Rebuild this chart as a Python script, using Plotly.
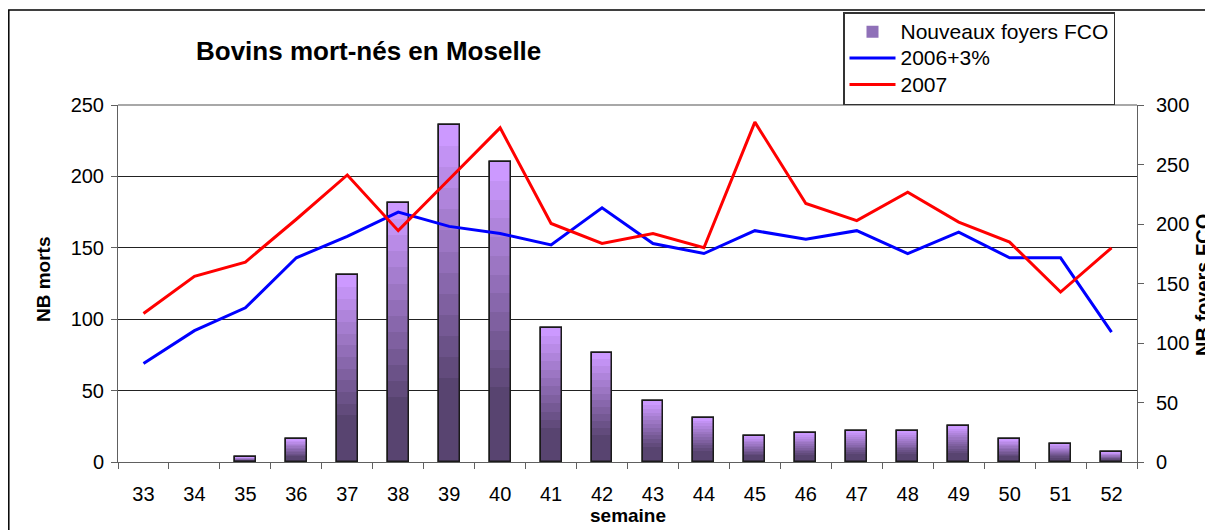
import plotly.graph_objects as go

semaines = [str(s) for s in range(33, 53)]
foyers_fco = [0, 0, 4, 19, 157, 218, 283, 252, 113, 92, 51, 37, 22, 24, 26, 26, 30, 19, 15, 8]
morts_2006 = [69, 92, 108, 143, 158, 175, 165, 160, 152, 178, 153, 146, 162, 156, 162, 146, 161, 143, 143, 91]
morts_2007 = [104, 130, 140, 170, 201, 162, 198, 234, 167, 153, 160, 150, 238, 181, 169, 189, 168, 154, 119, 150]
series_names = ["Nouveaux foyers FCO", "2006+3%", "2007"]

FONT = "Liberation Sans, Arial, sans-serif"
BAR_W = 0.41

def mix(c1, c2, t):
    return "#%02x%02x%02x" % tuple(round(a + (b - a) * t) for a, b in zip(c1, c2))

def legend_label(s):
    return '<span style="font-size:21px">%s</span>' % s

LIGHT = (204, 153, 255)
DARK = (88, 68, 112)
outline_w = [0 if v == 0 else 1.5 for v in foyers_fco]

fig = go.Figure()

# Legend carrier (full-height bars, mid colour)
fig.add_trace(go.Bar(
    x=semaines, y=foyers_fco, name=legend_label(series_names[0]), width=BAR_W,
    marker=dict(color="#8f70b8", line=dict(color="#1a1a1a", width=outline_w)),
    yaxis="y", showlegend=True, hoverinfo="skip"))

# Stepped vertical gradient: light at top, dark at bottom
N = 16
for k in range(N):
    frac = (N - k) / N
    t = min(1.0, k / (N - 1) * 1.25)
    fig.add_trace(go.Bar(
        x=semaines, y=[v * frac for v in foyers_fco], width=BAR_W,
        marker=dict(color=mix(LIGHT, DARK, t), line=dict(width=0)),
        yaxis="y", showlegend=False, hoverinfo="skip"))

# Outline on top
fig.add_trace(go.Bar(
    x=semaines, y=foyers_fco, width=BAR_W,
    marker=dict(color="rgba(0,0,0,0)", line=dict(color="#1a1a1a", width=outline_w)),
    yaxis="y", showlegend=False))

fig.add_trace(go.Scatter(
    x=semaines, y=morts_2006, name=legend_label(series_names[1]), mode="lines",
    line=dict(color="#0000ff", width=3), yaxis="y2"))
fig.add_trace(go.Scatter(
    x=semaines, y=morts_2007, name=legend_label(series_names[2]), mode="lines",
    line=dict(color="#ff0000", width=3), yaxis="y2"))

# Page has an 8px body margin: work in screen pixels and compensate.
OFF = 8
SW, SH = 1213, 530
PL, PR, PT, PB = 118, 1137, 105, 462   # plot area in screen pixels
W, H = SW - OFF, SH - OFF
L, T = PL - OFF, PT - OFF
R, B = SW - PR, SH - PB
pw, ph = PR - PL, PB - PT

def px(x):
    return (x - PL) / pw

def py(y):
    return (PB - y) / ph

fig.update_layout(
    width=W, height=H,
    margin=dict(l=L, r=R, t=T, b=B, pad=0, autoexpand=False),
    paper_bgcolor="white", plot_bgcolor="white",
    font=dict(family=FONT, size=20, color="black"),
    barmode="overlay", bargap=0,
    showlegend=True,
    legend=dict(
        x=px(843), y=py(12), xanchor="left", yanchor="top",
        bordercolor="#333333", borderwidth=1.5, bgcolor="white",
        font=dict(family=FONT, size=18, color="black"),
        tracegroupgap=0, itemwidth=46),
    xaxis=dict(
        type="category", tickson="boundaries", ticks="outside", ticklen=6,
        tickcolor="#606060", showline=True, linecolor="#606060", linewidth=1,
        showgrid=False, tickfont=dict(size=20), range=[-0.5, 19.5],
        ticklabelstandoff=14, automargin=False),
    yaxis=dict(
        side="right", range=[0, 300], dtick=50, showgrid=False, zeroline=False,
        ticks="outside", ticklen=6, tickcolor="#606060", showline=True,
        linecolor="#606060", linewidth=1, tickfont=dict(size=20),
        ticklabelstandoff=8, automargin=False),
    yaxis2=dict(
        side="left", overlaying="y", range=[0, 250], dtick=50,
        showgrid=True, gridcolor="#222222", gridwidth=1, zeroline=False,
        ticks="outside", ticklen=6, tickcolor="#606060", showline=True,
        linecolor="#606060", linewidth=1, tickfont=dict(size=20),
        ticklabelstandoff=3, automargin=False),
    shapes=[
        dict(type="rect", xref="paper", yref="paper",
             x0=px(8.8), x1=px(SW + 10), y0=py(SH + 10), y1=py(10),
             line=dict(color="black", width=1.5), fillcolor="rgba(0,0,0,0)"),
        dict(type="line", xref="paper", yref="paper", x0=0, x1=1, y0=1, y1=1,
             line=dict(color="#a8a8a8", width=2)),
    ],
    annotations=[
        dict(text="<b>Bovins mort-nés en Moselle</b>", xref="paper", yref="paper",
             x=px(368.5), y=py(51), xanchor="center", yanchor="middle",
             showarrow=False, font=dict(size=26)),
        dict(text="<b>NB morts</b>", xref="paper", yref="paper",
             x=px(43), y=py(279), xanchor="center", yanchor="middle",
             textangle=-90, showarrow=False, font=dict(size=19)),
        dict(text="<b>NB foyers FCO</b>", xref="paper", yref="paper",
             x=px(1203), y=py(285), xanchor="center", yanchor="middle",
             textangle=-90, showarrow=False, font=dict(size=20)),
        dict(text="<b>semaine</b>", xref="paper", yref="paper",
             x=px(628), y=py(516), xanchor="center", yanchor="middle",
             showarrow=False, font=dict(size=19)),
    ],
)

fig.write_html("out.html")
